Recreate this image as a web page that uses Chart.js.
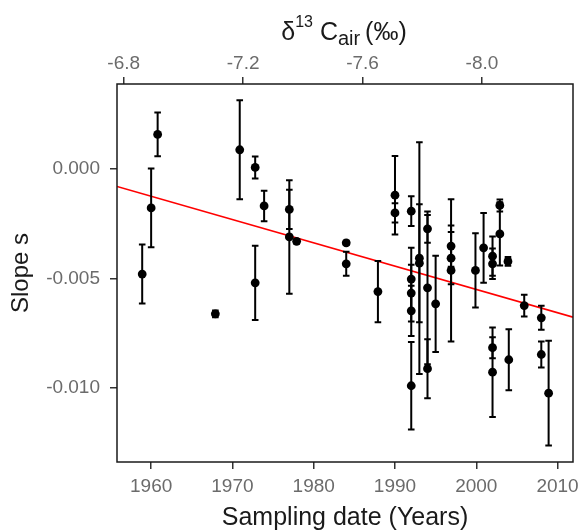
<!DOCTYPE html>
<html><head><meta charset="utf-8">
<script src="https://cdn.jsdelivr.net/npm/chart.js@4.4.1/dist/chart.umd.min.js"></script>
<style>html,body{margin:0;padding:0;background:#fff;} #wrap{width:580px;height:530px;position:relative;}</style>
</head><body><div id="wrap"><canvas id="c" width="580" height="530"></canvas></div>
<script>
// ---- data ----
const years = [1958.9, 1960.0, 1960.8, 1967.9, 1970.9, 1972.8, 1972.8, 1973.9, 1977.0, 1977.0, 1977.9,
  1984.0, 1984.0, 1987.9, 1990.0, 1990.0, 1992.0, 1992.0, 1992.0, 1992.0, 1992.0, 1993.0, 1993.0,
  1994.0, 1994.0, 1994.0, 1995.0, 1996.9, 1996.9, 1996.9, 1999.9, 2000.9, 2002.0, 2002.0, 2002.0,
  2002.0, 2002.9, 2002.9, 2003.9, 2004.0, 2005.9, 2008.0, 2008.0, 2008.9];
const slopes = [-0.0048, -0.00177, 0.00159, -0.00662, 0.00089, 0.00008, -0.0052, -0.00168, -0.00184, -0.0031, -0.0033,
  -0.00337, -0.00433, -0.0056, -0.00119, -0.0020, -0.00192, -0.00503, -0.00567, -0.00648, -0.00991, -0.00407, -0.0043,
  -0.00273, -0.00543, -0.00913, -0.00616, -0.00352, -0.00407, -0.00463, -0.00463, -0.0036, -0.00398, -0.00433, -0.00817,
  -0.00929, -0.00166, -0.00296, -0.00422, -0.00872, -0.00624, -0.0068, -0.00848, -0.01025];
const errors = [0.00135, 0.0018, 0.001, 0.00015, 0.00227, 0.0005, 0.0017, 0.0007, 0.0009, 0.0026, 0.0001,
  0.0001, 0.00055, 0.0014, 0.0018, 0.00044, 0.00068, 0.00143, 0.0013, 0.00115, 0.002, 0.0053, 0.0027,
  0.00063, 0.0035, 0.00135, 0.0022, 0.00094, 0.0012, 0.00326, 0.0017, 0.0016, 0.0009, 0.0007, 0.00048,
  0.00205, 0.00027, 0.00145, 0.0002, 0.0014, 0.0005, 0.00055, 0.0006, 0.0024];
const yearTicks = [1960, 1970, 1980, 1990, 2000, 2010];
const slopeTicks = [0.000, -0.005, -0.010];
const d13cTicks = [-6.8, -7.2, -7.6, -8.0];
const yearRange = [1955.8, 2011.9];
const slopeRange = [-0.0134, 0.0039];
const d13cRange = [-8.305, -6.7775];
const fitSlope = -0.0001066;   // per year
const fitAt1960 = -0.00124;

const FONT = "'Liberation Sans', Arial, sans-serif";
Chart.defaults.font.family = FONT;

const fitLine = yearRange.map(x => ({x: x, y: fitAt1960 + fitSlope * (x - 1960)}));
const pts = years.map((x, i) => ({x: x, y: slopes[i]}));

const errorBars = {
  id: 'errorBars',
  beforeDatasetDraw(chart, args) {
    if (args.index !== 0) return;
    const ctx = chart.ctx, x = chart.scales.x, y = chart.scales.y;
    ctx.save();
    ctx.strokeStyle = '#000'; ctx.lineWidth = 2;
    const cap = 3.3;
    years.forEach((yr, i) => {
      const px = x.getPixelForValue(yr);
      const t = y.getPixelForValue(slopes[i] + errors[i]);
      const b = y.getPixelForValue(slopes[i] - errors[i]);
      ctx.beginPath();
      ctx.moveTo(px, t); ctx.lineTo(px, b);
      ctx.moveTo(px - cap, t); ctx.lineTo(px + cap, t);
      ctx.moveTo(px - cap, b); ctx.lineTo(px + cap, b);
      ctx.stroke();
    });
    ctx.restore();
  }
};

const frameAndTitles = {
  id: 'frameAndTitles',
  afterDraw(chart) {
    const ctx = chart.ctx, a = chart.chartArea;
    ctx.save();
    ctx.strokeStyle = '#1a1a1a'; ctx.lineWidth = 1.5;
    ctx.strokeRect(a.left, a.top, a.right - a.left, a.bottom - a.top);
    ctx.fillStyle = '#1a1a1a';
    // bottom title
    ctx.font = '25px ' + FONT;
    ctx.textAlign = 'center'; ctx.textBaseline = 'alphabetic';
    ctx.fillText('Sampling date (Years)', (a.left + a.right) / 2, 525);
    // left title
    ctx.save();
    ctx.translate(28, (a.top + a.bottom) / 2);
    ctx.rotate(-Math.PI / 2);
    ctx.font = '24px ' + FONT;
    ctx.fillText('Slope s', 0, 0);
    ctx.restore();
    // top title with super/subscripts
    ctx.textAlign = 'left';
    const parts = [
      {t: 'δ', f: 25, dy: 40, gap: 0},
      {t: '13', f: 16, dy: 27, gap: 0},
      {t: ' C', f: 25, dy: 40, gap: 0},
      {t: 'air', f: 20, dy: 45, gap: 0},
      {t: ' (‰)', f: 25, dy: 40, gap: -2}
    ];
    let total = 0;
    parts.forEach(p => { ctx.font = p.f + 'px ' + FONT; p.w = ctx.measureText(p.t).width; total += p.w + p.gap; });
    let cx = 344 - total / 2;
    parts.forEach(p => {
      ctx.font = p.f + 'px ' + FONT;
      cx += p.gap;
      ctx.fillText(p.t, cx, p.dy);
      cx += p.w;
    });
    ctx.restore();
  }
};

const tickFont = {size: 19, family: FONT};
const tickColor = '#6b6b6b';
const gridOpts = {drawOnChartArea: false, drawTicks: true, tickLength: 7, color: '#333', lineWidth: 1.5};
const noPad = s => { s.paddingLeft = 0; s.paddingRight = 0; s.paddingTop = 0; s.paddingBottom = 0; };

new Chart(document.getElementById('c'), {
  type: 'scatter',
  data: {
    datasets: [
      {label: 'slope', data: pts, xAxisID: 'x', yAxisID: 'y',
       pointRadius: 4.4, pointHoverRadius: 4.4, backgroundColor: '#000', borderWidth: 0},
      {type: 'line', label: 'fit', data: fitLine, xAxisID: 'x', yAxisID: 'y',
       borderColor: '#ff0000', borderWidth: 1.6, pointRadius: 0, fill: false}
    ]
  },
  options: {
    responsive: false, animation: false, devicePixelRatio: 1,
    layout: {padding: {left: 0, right: 7, top: 0, bottom: 0}},
    plugins: {legend: {display: false}, tooltip: {enabled: false}},
    scales: {
      x: {type: 'linear', position: 'bottom', min: yearRange[0], max: yearRange[1],
        afterBuildTicks: s => { s.ticks = yearTicks.map(v => ({value: v})); },
        afterFit: s => { s.height = 68; noPad(s); },
        grid: gridOpts, border: {display: false},
        ticks: {font: tickFont, color: tickColor, padding: 6, autoSkip: false, maxRotation: 0,
          callback: v => String(v)}},
      x2: {type: 'linear', position: 'top', reverse: true, min: d13cRange[0], max: d13cRange[1],
        afterBuildTicks: s => { s.ticks = d13cTicks.map(v => ({value: v})); },
        afterFit: s => { s.height = 84; noPad(s); },
        grid: gridOpts, border: {display: false},
        ticks: {font: tickFont, color: tickColor, padding: 2, autoSkip: false, maxRotation: 0,
          callback: v => v.toFixed(1)}},
      y: {type: 'linear', position: 'left', min: slopeRange[0], max: slopeRange[1],
        afterBuildTicks: s => { s.ticks = slopeTicks.map(v => ({value: v})); },
        afterFit: s => { s.width = 117; noPad(s); },
        grid: gridOpts, border: {display: false},
        ticks: {font: tickFont, color: tickColor, padding: 10, autoSkip: false,
          callback: v => v.toFixed(3)}}
    }
  },
  plugins: [errorBars, frameAndTitles]
});
</script></body></html>
